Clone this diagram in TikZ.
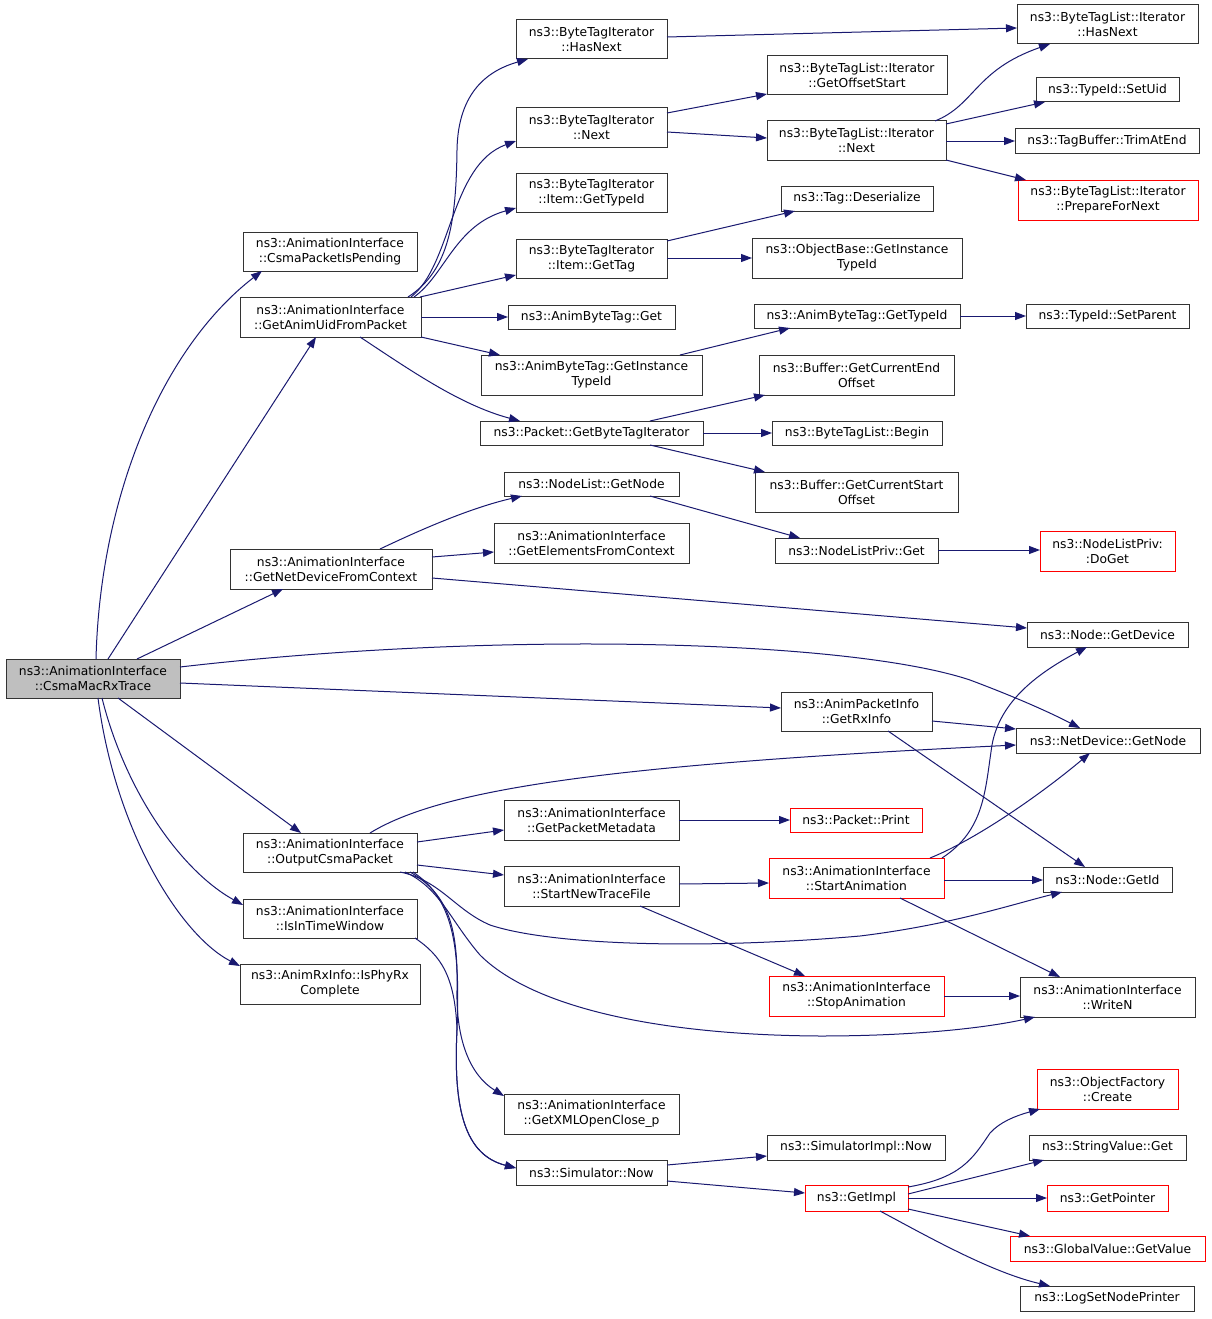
\documentclass[tikz,border=0pt]{standalone}
\usepackage{fontspec}
\setmainfont{DejaVu Sans}
\usetikzlibrary{arrows.meta}
\definecolor{edgecol}{HTML}{191970}
\definecolor{boxcol}{HTML}{333333}
\definecolor{redcol}{HTML}{FF0000}
\definecolor{mainfill}{HTML}{BFBFBF}
\tikzset{
  gbox/.style={draw=boxcol, line width=1pt, fill=white, rectangle, inner sep=0pt, outer sep=0pt,
    align=center, font=\fontsize{12.3}{15}\selectfont},
  redb/.style={draw=redcol},
  mainb/.style={fill=mainfill},
  cn/.style={draw=edgecol, line width=1pt, -{Triangle[length=11pt,width=8pt]}}
}
\newcommand\bx[7][]{\node[gbox,#1,minimum width={#5-#3},minimum height={#6-#4}] (#2) at ({(#3+#5)/2},{(#4+#6)/2}) {#7};}
\begin{document}
\begin{tikzpicture}[x=1pt,y=-1pt]
\useasboundingbox[fill=white] (0,0) rectangle (1211,1319);
% nodes
\bx[mainb]{main}{6}{659}{180}{698}{ns3::AnimationInterface\\::CsmaMacRxTrace}
\bx{cpp}{243}{232}{417}{271}{ns3::AnimationInterface\\::CsmaPacketIsPending}
\bx{gau}{240}{297}{421}{337}{ns3::AnimationInterface\\::GetAnimUidFromPacket}
\bx{gnd}{230}{549}{432}{589}{ns3::AnimationInterface\\::GetNetDeviceFromContext}
\bx{ocp}{243}{833}{417}{872}{ns3::AnimationInterface\\::OutputCsmaPacket}
\bx{itw}{243}{899}{417}{938}{ns3::AnimationInterface\\::IsInTimeWindow}
\bx{ipr}{240}{964}{420}{1004}{ns3::AnimRxInfo::IsPhyRx\\Complete}
\bx{bhn}{516}{20}{667}{59}{ns3::ByteTagIterator\\::HasNext}
\bx{bnx}{516}{108}{667}{147}{ns3::ByteTagIterator\\::Next}
\bx{igt}{516}{173}{667}{212}{ns3::ByteTagIterator\\::Item::GetTypeId}
\bx{igg}{516}{239}{667}{278}{ns3::ByteTagIterator\\::Item::GetTag}
\bx{abg}{508}{305}{675}{329}{ns3::AnimByteTag::Get}
\bx{abi}{481}{355}{702}{395}{ns3::AnimByteTag::GetInstance\\TypeId}
\bx{pgb}{480}{421}{703}{445}{ns3::Packet::GetByteTagIterator}
\bx{nlg}{504}{472}{679}{496}{ns3::NodeList::GetNode}
\bx{gef}{494}{523}{689}{563}{ns3::AnimationInterface\\::GetElementsFromContext}
\bx{lhn}{1017}{5}{1198}{44}{ns3::ByteTagList::Iterator\\::HasNext}
\bx{los}{767}{56}{947}{95}{ns3::ByteTagList::Iterator\\::GetOffsetStart}
\bx{lnx}{767}{121}{946}{160}{ns3::ByteTagList::Iterator\\::Next}
\bx{tsu}{1036}{78}{1179}{102}{ns3::TypeId::SetUid}
\bx{tbt}{1015}{129}{1199}{153}{ns3::TagBuffer::TrimAtEnd}
\bx[redb]{pfn}{1018}{180}{1198}{220}{ns3::ByteTagList::Iterator\\::PrepareForNext}
\bx{tds}{781}{186}{933}{211}{ns3::Tag::Deserialize}
\bx{obi}{752}{238}{962}{278}{ns3::ObjectBase::GetInstance\\TypeId}
\bx{abt}{754}{304}{960}{328}{ns3::AnimByteTag::GetTypeId}
\bx{tsp}{1026}{304}{1189}{328}{ns3::TypeId::SetParent}
\bx{bce}{759}{355}{954}{395}{ns3::Buffer::GetCurrentEnd\\Offset}
\bx{blb}{772}{421}{942}{445}{ns3::ByteTagList::Begin}
\bx{bcs}{755}{472}{958}{512}{ns3::Buffer::GetCurrentStart\\Offset}
\bx{npg}{775}{538}{938}{563}{ns3::NodeListPriv::Get}
\bx[redb]{npd}{1040}{531}{1175}{571}{ns3::NodeListPriv:\\:DoGet}
\bx{ngd}{1027}{622}{1188}{647}{ns3::Node::GetDevice}
\bx{gri}{781}{692}{932}{731}{ns3::AnimPacketInfo\\::GetRxInfo}
\bx{ndn}{1016}{728}{1200}{753}{ns3::NetDevice::GetNode}
\bx{gpm}{504}{800}{679}{840}{ns3::AnimationInterface\\::GetPacketMetadata}
\bx[redb]{ppr}{790}{808}{922}{832}{ns3::Packet::Print}
\bx{snt}{504}{866}{679}{906}{ns3::AnimationInterface\\::StartNewTraceFile}
\bx[redb]{sta}{769}{858}{944}{898}{ns3::AnimationInterface\\::StartAnimation}
\bx{ngi}{1043}{867}{1172}{892}{ns3::Node::GetId}
\bx[redb]{sto}{769}{976}{944}{1016}{ns3::AnimationInterface\\::StopAnimation}
\bx{wrn}{1020}{977}{1195}{1017}{ns3::AnimationInterface\\::WriteN}
\bx{gxo}{504}{1094}{679}{1134}{ns3::AnimationInterface\\::GetXMLOpenClose\_p}
\bx{sin}{767}{1135}{945}{1160}{ns3::SimulatorImpl::Now}
\bx{snw}{516}{1160}{667}{1185}{ns3::Simulator::Now}
\bx[redb]{gim}{805}{1185}{908}{1211}{ns3::GetImpl}
\bx[redb]{ofc}{1037}{1069}{1178}{1109}{ns3::ObjectFactory\\::Create}
\bx{svg}{1029}{1135}{1186}{1160}{ns3::StringValue::Get}
\bx[redb]{gpt}{1047}{1185}{1168}{1211}{ns3::GetPointer}
\bx[redb]{ggv}{1010}{1236}{1205}{1261}{ns3::GlobalValue::GetValue}
\bx{lsn}{1020}{1286}{1194}{1311}{ns3::LogSetNodePrinter}
% edges from main
\draw[cn] ([shift={(90,0)}]main.north west) .. controls (100,500) and (160,350) .. ([shift={(19,39)}]cpp.north west);
\draw[cn] ([shift={(102,0)}]main.north west) -- ([shift={(76,40)}]gau.north west);
\draw[cn] ([shift={(131,0)}]main.north west) -- ([shift={(53,40)}]gnd.north west);
\draw[cn] ([shift={(174,8)}]main.north west) .. controls (500,630) and (850,640) .. (970,680) .. controls (1010,695) and (1045,710) .. ([shift={(64,0)}]ndn.north west);
\draw[cn] ([shift={(174,24)}]main.north west) -- ([shift={(0,16)}]gri.north west);
\draw[cn] ([shift={(112,39)}]main.north west) -- ([shift={(58,0)}]ocp.north west);
\draw[cn] ([shift={(96,39)}]main.north west) .. controls (125,790) and (180,870) .. ([shift={(0,6)}]itw.north west);
\draw[cn] ([shift={(92,39)}]main.north west) .. controls (115,830) and (180,935) .. ([shift={(0,2)}]ipr.north west);
% from GetAnimUidFromPacket
\draw[cn] ([shift={(168,0)}]gau.north west) .. controls (450,270) and (456,220) .. (457,150) .. controls (458,90) and (490,70) .. ([shift={(12,39)}]bhn.north west);
\draw[cn] ([shift={(171,0)}]gau.north west) .. controls (452,265) and (450,165) .. ([shift={(0,33)}]bnx.north west);
\draw[cn] ([shift={(174,0)}]gau.north west) .. controls (445,275) and (455,225) .. ([shift={(0,35)}]igt.north west);
\draw[cn] ([shift={(180,0)}]gau.north west) -- ([shift={(0,36)}]igg.north west);
\draw[cn] ([shift={(181,20)}]gau.north west) -- ([shift={(0,12)}]abg.north west);
\draw[cn] ([shift={(181,40)}]gau.north west) -- ([shift={(19,0)}]abi.north west);
\draw[cn] ([shift={(120,40)}]gau.north west) .. controls (410,370) and (460,405) .. ([shift={(40,0)}]pgb.north west);
% ByteTagIterator
\draw[cn] ([shift={(151,17)}]bhn.north west) -- ([shift={(0,23)}]lhn.north west);
\draw[cn] ([shift={(151,5)}]bnx.north west) -- ([shift={(0,38)}]los.north west);
\draw[cn] ([shift={(151,24)}]bnx.north west) -- ([shift={(0,17)}]lnx.north west);
\draw[cn] ([shift={(168,0)}]lnx.north west) .. controls (975,105) and (975,70) .. ([shift={(33,39)}]lhn.north west);
\draw[cn] ([shift={(179,3)}]lnx.north west) -- ([shift={(9,24)}]tsu.north west);
\draw[cn] ([shift={(179,20)}]lnx.north west) -- ([shift={(0,12)}]tbt.north west);
\draw[cn] ([shift={(179,39)}]lnx.north west) -- ([shift={(8,0)}]pfn.north west);
\draw[cn] ([shift={(151,2)}]igg.north west) -- ([shift={(14,25)}]tds.north west);
\draw[cn] ([shift={(151,19)}]igg.north west) -- ([shift={(0,20)}]obi.north west);
\draw[cn] ([shift={(199,0)}]abi.north west) -- ([shift={(36,24)}]abt.north west);
\draw[cn] ([shift={(206,12)}]abt.north west) -- ([shift={(0,12)}]tsp.north west);
\draw[cn] ([shift={(170,0)}]pgb.north west) -- ([shift={(6,40)}]bce.north west);
\draw[cn] ([shift={(223,12)}]pgb.north west) -- ([shift={(0,12)}]blb.north west);
\draw[cn] ([shift={(170,24)}]pgb.north west) -- ([shift={(10,0)}]bcs.north west);
% GetNetDeviceFromContext
\draw[cn] ([shift={(150,0)}]gnd.north west) .. controls (420,530) and (470,508) .. ([shift={(18,24)}]nlg.north west);
\draw[cn] ([shift={(202,8)}]gnd.north west) -- ([shift={(0,29)}]gef.north west);
\draw[cn] ([shift={(202,29)}]gnd.north west) -- ([shift={(0,6)}]ngd.north west);
\draw[cn] ([shift={(146,24)}]nlg.north west) -- ([shift={(25,0)}]npg.north west);
\draw[cn] ([shift={(163,12)}]npg.north west) -- ([shift={(0,19)}]npd.north west);
\draw[cn] ([shift={(151,29)}]gri.north west) -- ([shift={(0,1)}]ndn.north west);
\draw[cn] ([shift={(107,39)}]gri.north west) -- ([shift={(42,0)}]ngi.north west);
% OutputCsmaPacket
\draw[cn] ([shift={(127,0)}]ocp.north west) .. controls (440,790) and (600,765) .. ([shift={(0,17)}]ndn.north west);
\draw[cn] ([shift={(174,9)}]ocp.north west) -- ([shift={(0,30)}]gpm.north west);
\draw[cn] ([shift={(174,32)}]ocp.north west) -- ([shift={(0,9)}]snt.north west);
\draw[cn] ([shift={(157,39)}]ocp.north west) .. controls (440,880) and (455,910) .. (490,925) .. controls (550,945) and (700,950) .. (860,936) .. controls (950,925) and (1010,905) .. ([shift={(19,25)}]ngi.north west);
\draw[cn] ([shift={(162,39)}]ocp.north west) .. controls (440,888) and (450,920) .. (480,955) .. controls (530,1005) and (650,1035) .. (820,1036) .. controls (920,1036) and (990,1027) .. ([shift={(15,40)}]wrn.north west);
\draw[cn] ([shift={(167,39)}]ocp.north west) .. controls (450,895) and (458,930) .. (457,990) .. controls (456,1040) and (470,1075) .. ([shift={(0,2)}]gxo.north west);
\draw[cn] ([shift={(170,39)}]ocp.north west) .. controls (455,900) and (460,950) .. (457,1030) .. controls (453,1110) and (465,1155) .. ([shift={(0,8)}]snw.north west);
\draw[cn] ([shift={(172,39)}]itw.north west) .. controls (440,955) and (455,975) .. (457,1030) .. controls (453,1110) and (465,1155) .. ([shift={(0,8)}]snw.north west);
\draw[cn] ([shift={(175,20)}]gpm.north west) -- ([shift={(0,12)}]ppr.north west);
\draw[cn] ([shift={(175,18)}]snt.north west) -- ([shift={(0,25)}]sta.north west);
\draw[cn] ([shift={(136,40)}]snt.north west) -- ([shift={(36,0)}]sto.north west);
% StartAnimation
\draw[cn] ([shift={(173,0)}]sta.north west) .. controls (985,830) and (985,790) .. (992,745) .. controls (1000,700) and (1040,672) .. ([shift={(60,25)}]ngd.north west);
\draw[cn] ([shift={(161,0)}]sta.north west) .. controls (975,840) and (1040,795) .. ([shift={(74,25)}]ndn.north west);
\draw[cn] ([shift={(175,22)}]sta.north west) -- ([shift={(0,13)}]ngi.north west);
\draw[cn] ([shift={(131,40)}]sta.north west) -- ([shift={(40,0)}]wrn.north west);
\draw[cn] ([shift={(175,20)}]sto.north west) -- ([shift={(0,19)}]wrn.north west);
% Simulator::Now and GetImpl
\draw[cn] ([shift={(151,5)}]snw.north west) -- ([shift={(0,21)}]sin.north west);
\draw[cn] ([shift={(151,21)}]snw.north west) -- ([shift={(0,8)}]gim.north west);
\draw[cn] ([shift={(103,2)}]gim.north west) .. controls (960,1178) and (972,1160) .. (990,1133) .. controls (1000,1122) and (1015,1116) .. ([shift={(3,40)}]ofc.north west);
\draw[cn] ([shift={(103,9)}]gim.north west) -- ([shift={(15,25)}]svg.north west);
\draw[cn] ([shift={(103,13)}]gim.north west) -- ([shift={(0,13)}]gpt.north west);
\draw[cn] ([shift={(103,24)}]gim.north west) -- ([shift={(20,0)}]ggv.north west);
\draw[cn] ([shift={(75,26)}]gim.north west) .. controls (925,1235) and (990,1272) .. ([shift={(30,0)}]lsn.north west);
\end{tikzpicture}
\end{document}
